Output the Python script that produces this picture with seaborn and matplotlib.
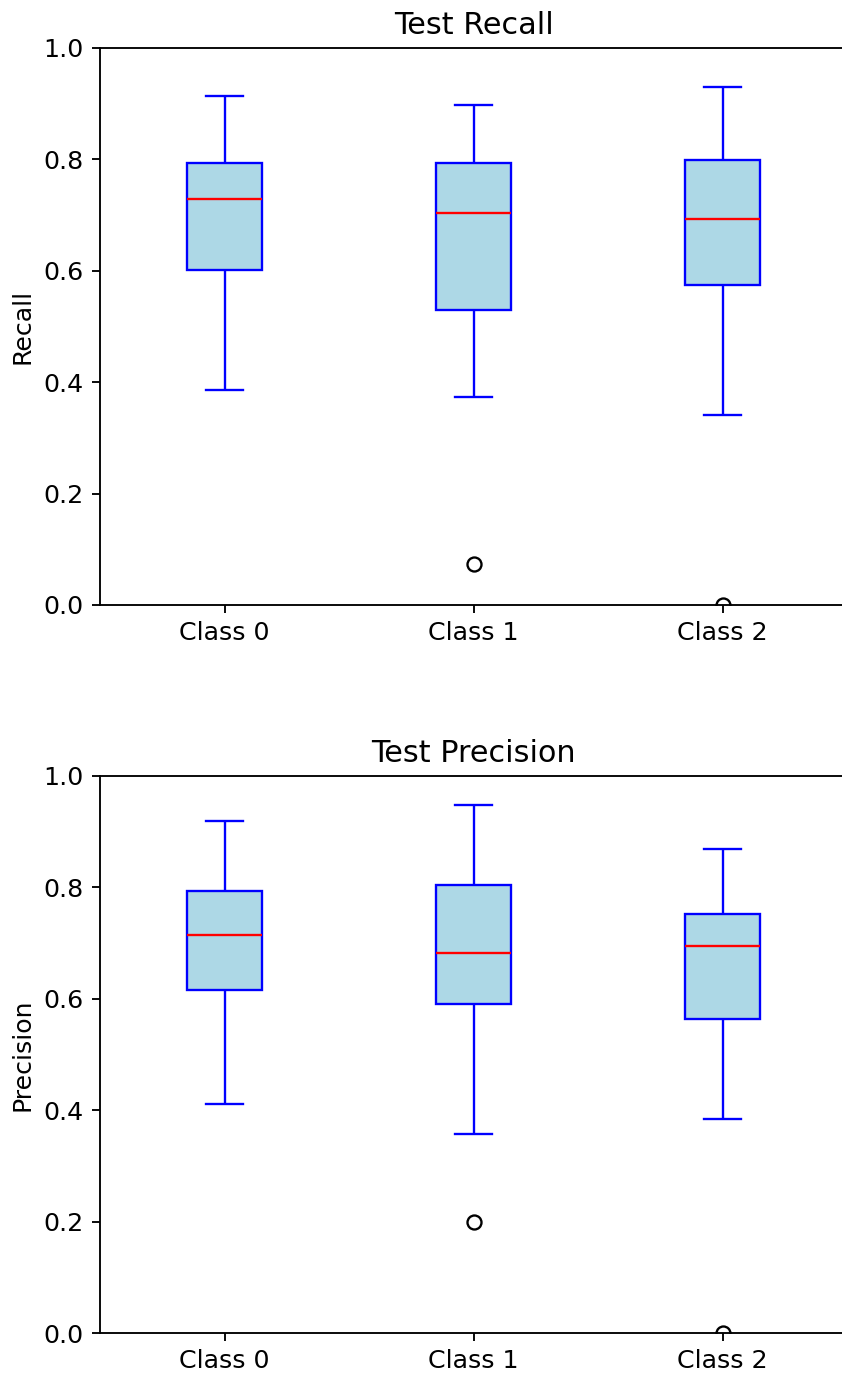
import matplotlib
matplotlib.use("Agg")
import matplotlib.pyplot as plt
import pandas as pd
import seaborn as sns

# Per-fold scores for each class
classes = ["Class 0", "Class 1", "Class 2"]

recall_class0 = [0.386, 0.520, 0.601, 0.680, 0.728, 0.760, 0.793, 0.850, 0.914]
recall_class1 = [0.074, 0.373, 0.529, 0.630, 0.704, 0.750, 0.793, 0.840, 0.897]
recall_class2 = [0.000, 0.341, 0.574, 0.640, 0.693, 0.740, 0.798, 0.860, 0.929]

precision_class0 = [0.411, 0.530, 0.615, 0.670, 0.715, 0.750, 0.793, 0.860, 0.919]
precision_class1 = [0.200, 0.357, 0.590, 0.640, 0.683, 0.740, 0.804, 0.880, 0.948]
precision_class2 = [0.000, 0.384, 0.564, 0.630, 0.694, 0.720, 0.753, 0.810, 0.869]


def long_form(metric, columns):
    rows = []
    for cls, vals in zip(classes, columns):
        for v in vals:
            rows.append({"Class": cls, metric: v})
    return pd.DataFrame(rows)


recall_df = long_form("Recall", [recall_class0, recall_class1, recall_class2])
precision_df = long_form("Precision", [precision_class0, precision_class1, precision_class2])

plt.rcParams["font.size"] = 10.8

dpi = 168
fig = plt.figure(figsize=(842 / dpi, 1373 / dpi), dpi=dpi)
ax_top = fig.add_axes([0.1188, 0.5594, 0.8872, 0.4057])
ax_bot = fig.add_axes([0.1188, 0.02913, 0.8872, 0.4057])


def draw(ax, df, metric, title):
    sns.boxplot(
        data=df, x="Class", y=metric, order=classes, ax=ax,
        width=0.3, color="lightblue", saturation=1, linecolor="blue",
        linewidth=1.0,
        medianprops=dict(color="red"),
        flierprops=dict(marker="o", markerfacecolor="none",
                        markeredgecolor="black", markersize=6),
    )
    ax.set_ylim(0, 1)
    ax.set_xlabel("")
    ax.set_ylabel(metric)
    ax.set_title(title)
    # the frame runs past the right edge of the canvas
    ax.spines["right"].set_visible(False)


draw(ax_top, recall_df, "Recall", "Test Recall")
draw(ax_bot, precision_df, "Precision", "Test Precision")

fig.savefig("out.png", dpi=dpi)
